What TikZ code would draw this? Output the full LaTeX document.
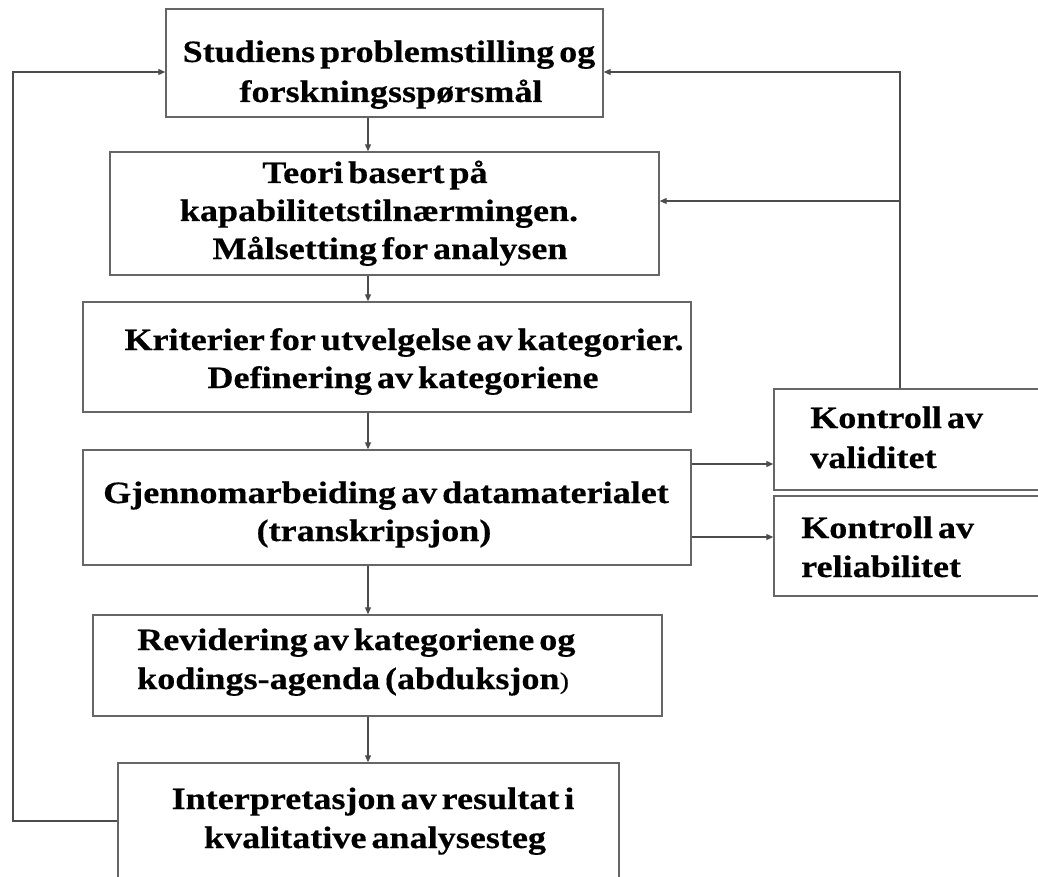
\documentclass[tikz,border=0pt]{standalone}
\usepackage{fontspec}
\setmainfont{Liberation Serif}[FakeStretch=1.165, WordSpace=0.55, FakeBold=0.4]
\usetikzlibrary{arrows.meta}

\definecolor{edgegray}{gray}{0.40}
\definecolor{linegray}{gray}{0.30}

\begin{document}
\begin{tikzpicture}[x=1pt,y=-1pt,
  box/.style={draw=edgegray, line width=1.4pt, inner sep=0pt},
  txt/.style={font=\fontsize{31}{40}\selectfont\bfseries, inner sep=0pt, text=black},
  arr/.style={draw=linegray, line width=1.1pt, -{Triangle[length=7pt,width=6pt]}}]

\useasboundingbox (0,0) rectangle (1038,877);
\clip (0,0) rectangle (1038,877);

% main column of boxes
\node[box, minimum width=437pt, minimum height=108pt] (b1) at (384.5,63) {};
\node[box, minimum width=549pt, minimum height=123pt] (b2) at (384.5,213.5) {};
\node[box, minimum width=608pt, minimum height=110pt] (b3) at (387,357) {};
\node[box, minimum width=608pt, minimum height=115pt] (b4) at (387,507.5) {};
\node[box, minimum width=569pt, minimum height=101pt] (b5) at (377.5,665.5) {};
\node[box, minimum width=501pt, minimum height=137pt] (b6) at (368.5,831.5) {};

% control boxes on the right
\node[box, minimum width=286pt, minimum height=101pt] (k1) at (917,439.5) {};
\node[box, minimum width=286pt, minimum height=100pt] (k2) at (917,546) {};

% texts
\node[txt, anchor=base] (t1a) at (389,62) {Studiens problemstilling og};
\node[txt, anchor=base] (t1b) at (391,102) {forskningsspørsmål};

\node[txt, anchor=base] (t2a) at (375,183) {Teori basert på};
\node[txt, anchor=base] (t2b) at (379,221) {kapabilitetstilnærmingen.};
\node[txt, anchor=base] (t2c) at (390,259) {Målsetting for analysen};

\node[txt, anchor=base] (t3a) at (404,350) {Kriterier for utvelgelse av kategorier.};
\node[txt, anchor=base] (t3b) at (403,388) {Definering av kategoriene};

\node[txt, anchor=base] (t4a) at (386,503) {Gjennomarbeiding av datamaterialet};
\node[txt, anchor=base] (t4b) at (374,541) {(transkripsjon)};

\node[txt, anchor=base west] (t5a) at (137,650) {Revidering av kategoriene og};
\node[txt, anchor=base west] (t5b) at (137,689) {kodings-agenda (abduksjon{\mdseries\fontsize{24}{40}\selectfont)}};

\node[txt, anchor=base] (t6a) at (373,809) {Interpretasjon av resultat i};
\node[txt, anchor=base] (t6b) at (375,848) {kvalitative analysesteg};

\node[txt, anchor=base west] (tk1a) at (810,428) {Kontroll av};
\node[txt, anchor=base west] (tk1b) at (810,468) {validitet};
\node[txt, anchor=base west] (tk2a) at (801,538) {Kontroll av};
\node[txt, anchor=base west] (tk2b) at (801,577) {reliabilitet};

% guide coordinates for the connector runs
\coordinate (ax) at (368,0);
\coordinate (rx) at (900,0);
\coordinate (lx) at (13,0);
\coordinate (v1) at ([yshift=43.5pt]b4.east);
\coordinate (v2) at ([yshift=-29.5pt]b4.east);
\coordinate (w1) at ([yshift=-9pt]b1.east);
\coordinate (w2) at ([yshift=12.5pt]b2.east);
\coordinate (u1) at ([yshift=-9pt]b1.west);
\coordinate (u6) at ([yshift=10.5pt]b6.west);

% downward flow
\draw[arr] (b1.south -| ax) -- (b2.north -| ax);
\draw[arr] (b2.south -| ax) -- (b3.north -| ax);
\draw[arr] (b3.south -| ax) -- (b4.north -| ax);
\draw[arr] (b4.south -| ax) -- (b5.north -| ax);
\draw[arr] (b5.south -| ax) -- (b6.north -| ax);

% to the control boxes
\draw[arr] (v1) -- (v1 -| k1.west);
\draw[arr] (v2) -- (v2 -| k2.west);

% feedback on the right
\draw[arr] (k1.north -| rx) |- (w1);
\draw[arr] (w2 -| rx) -- (w2);

% feedback on the left
\draw[arr] (u6) -- (u6 -| lx) |- (u1);

\end{tikzpicture}
\end{document}
